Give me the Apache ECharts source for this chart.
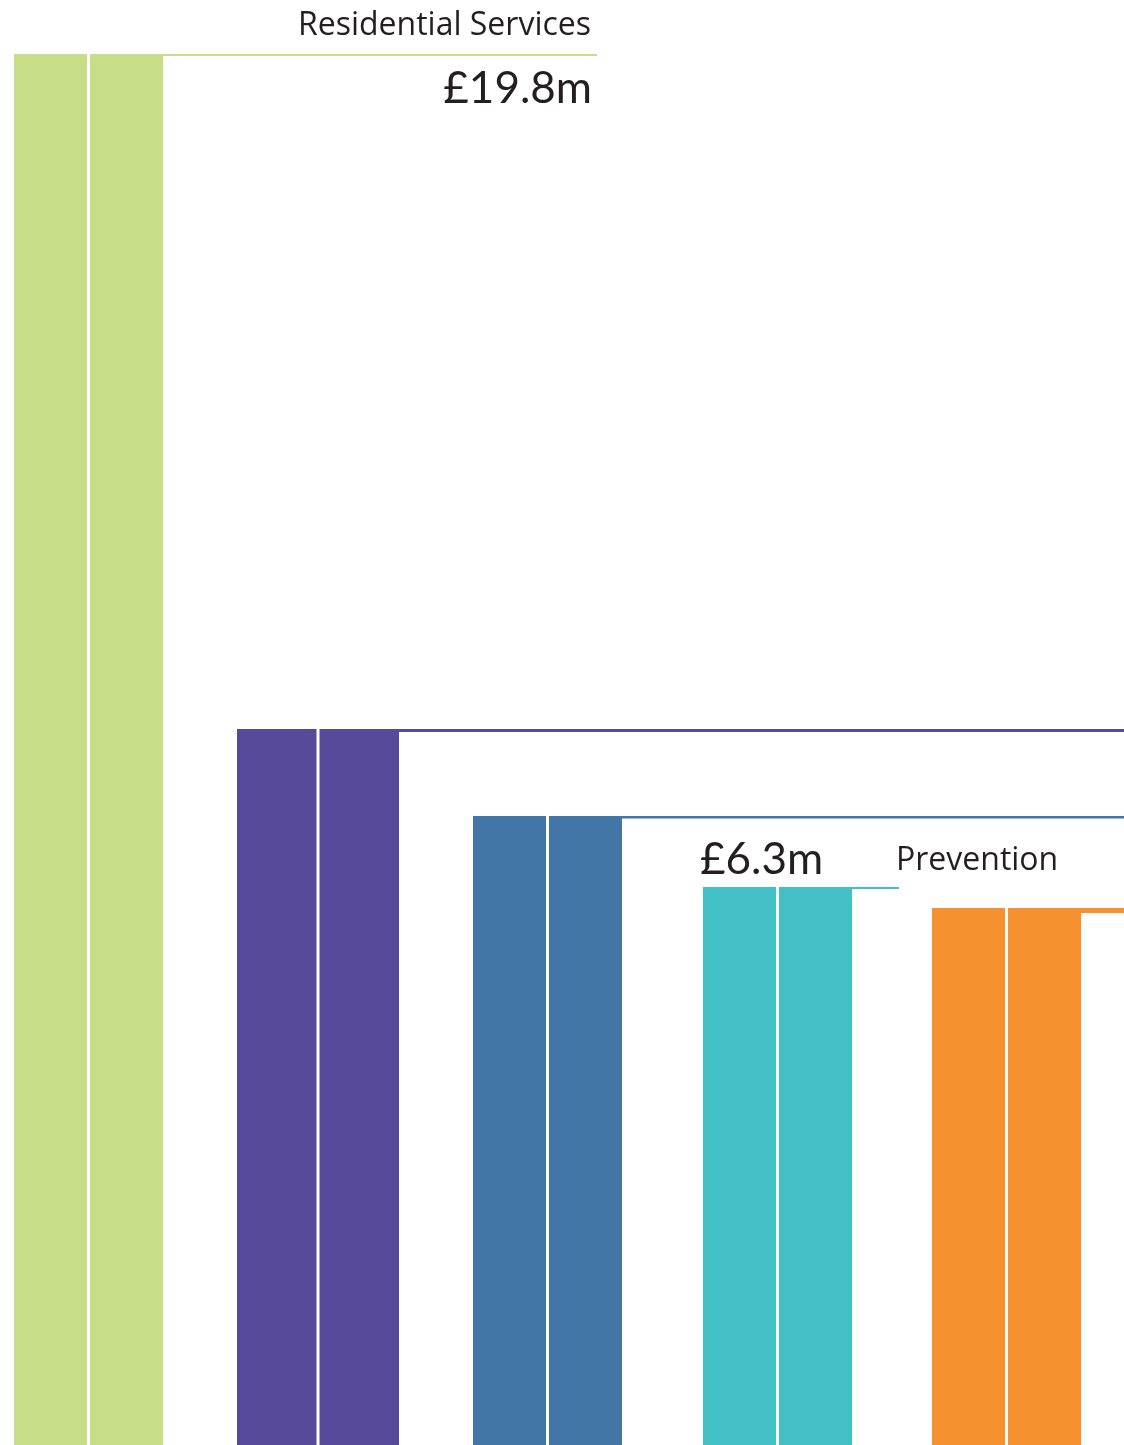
<!DOCTYPE html>
<html><head><meta charset="utf-8">
<script src="https://cdn.jsdelivr.net/npm/echarts@6/dist/echarts.min.js"></script>
<style>html,body{margin:0;padding:0;background:#fff}#c{width:1124px;height:1445px}</style>
</head><body><div id="c"></div>
<script>
// ---- data ----
const categories = ['Residential Services', '', '', 'Prevention', ''];
const values = [19.8, 8.86, 7.45, 6.3, 5.96];          // £m
const showLabel = [true, false, false, true, false];
const Y_MIN = -2.74, Y_MAX = 20.68;

// ---- styles ----
const colors = ['#c8dd88', '#574a9b', '#4176a6', '#42c0c5', '#f5912f'];
const pairWidths = [149, 162, 149, 149, 149];
const leaderExtents = [434, null, null, 47, null];
const leaderWidths = [2, 3, 2.5, 2, 5];
const labelModes = ['above-end', null, null, 'inline', null];
const GAP = 3;
const NAME_FONT = '32px "Open Sans"';
const VALUE_FONT = '44px Lato';
const TEXT_COLOR = '#231f20';

const chart = echarts.init(document.getElementById('c'), null, {renderer: 'canvas'});
const data = values.map((v, i) => [i, v]);

function renderItem(params, api) {
  const i = api.value(0), v = api.value(1);
  const cs = params.coordSys;
  const c = api.coord([i, v]);
  const base = api.coord([i, Y_MIN]);
  const pw = pairWidths[i];
  const half = (pw - GAP) / 2;
  const left = Math.round(c[0] - pw / 2);
  const top = Math.round(c[1]);
  const h = base[1] - top;
  const right = left + pw;
  const lineEnd = leaderExtents[i] == null ? cs.x + cs.width : right + leaderExtents[i];
  const color = colors[i];
  const children = [
    {type: 'rect', shape: {x: left, y: top, width: half, height: h}, style: {fill: color}},
    {type: 'rect', shape: {x: left + half + GAP, y: top, width: half, height: h}, style: {fill: color}},
    {type: 'rect', shape: {x: right, y: top, width: lineEnd - right, height: leaderWidths[i]}, style: {fill: color}}
  ];
  if (showLabel[i]) {
    const valTxt = '£' + v.toFixed(1) + 'm';
    const name = categories[i];
    if (labelModes[i] === 'above-end') {
      children.push({type: 'text', style: {text: name, x: lineEnd - 6, y: top - 28, align: 'right', verticalAlign: 'middle', font: NAME_FONT, fill: TEXT_COLOR}});
      children.push({type: 'text', style: {text: valTxt, x: lineEnd - 5, y: top + 35, align: 'right', verticalAlign: 'middle', font: VALUE_FONT, fill: TEXT_COLOR}});
    } else {
      children.push({type: 'text', style: {text: valTxt, x: left - 3, y: top - 27, align: 'left', verticalAlign: 'middle', font: VALUE_FONT, fill: TEXT_COLOR}});
      children.push({type: 'text', style: {text: name, x: lineEnd - 3, y: top - 26, align: 'left', verticalAlign: 'middle', font: NAME_FONT, fill: TEXT_COLOR}});
    }
  }
  return {type: 'group', children};
}

chart.setOption({
  animation: false,
  grid: {left: 0, right: 0, top: 0, bottom: 0, containLabel: false},
  xAxis: {type: 'value', min: -0.3866, max: 4.512, show: false},
  yAxis: {type: 'value', min: Y_MIN, max: Y_MAX, show: false},
  series: [{type: 'custom', renderItem, data, clip: false}]
});
</script></body></html>
